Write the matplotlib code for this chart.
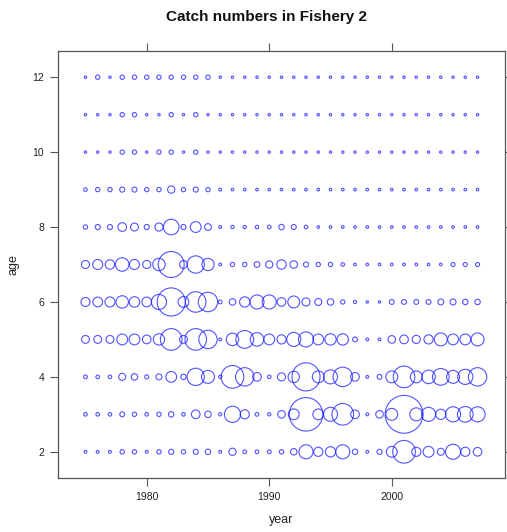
import numpy as np
import matplotlib
matplotlib.use("Agg")
import matplotlib.pyplot as plt

plt.rcParams['font.family'] = ['Liberation Sans', 'DejaVu Sans']

years = list(range(1975, 2008))
ages = [2, 3, 4, 5, 6, 7, 8, 9, 10, 11, 12]

# catch numbers (relative units) per age, years 1975-2007
age2 = [7, 7, 7, 16, 16, 7, 16, 22, 16, 22, 25, 7, 45, 12, 12, 12, 16, 36, 169, 72, 90, 169, 25, 7, 22, 100, 441, 72, 100, 42, 196, 72, 64]
age3 = [11, 11, 11, 20, 16, 11, 16, 25, 11, 64, 36, 9, 225, 72, 12, 9, 49, 100, 961, 100, 169, 400, 64, 7, 49, 121, 1225, 144, 169, 90, 196, 210, 196]
age4 = [12, 11, 11, 42, 36, 14, 30, 100, 25, 256, 144, 9, 441, 289, 64, 11, 56, 110, 676, 121, 169, 324, 64, 7, 20, 121, 400, 121, 156, 240, 144, 196, 289]
age5 = [53, 53, 53, 100, 100, 64, 110, 400, 53, 400, 289, 7, 132, 272, 156, 100, 72, 169, 196, 100, 110, 110, 20, 7, 7, 49, 64, 56, 72, 144, 100, 100, 144]
age6 = [69, 81, 86, 132, 94, 81, 196, 676, 100, 361, 324, 12, 36, 90, 169, 169, 64, 121, 56, 42, 36, 16, 9, 5, 5, 20, 20, 20, 20, 30, 30, 25, 25]
age7 = [56, 86, 76, 156, 86, 56, 132, 576, 53, 256, 128, 7, 16, 16, 28, 45, 76, 49, 22, 16, 16, 11, 6, 6, 6, 6, 6, 6, 6, 6, 14, 14, 14]
age8 = [16, 22, 22, 64, 53, 22, 56, 210, 22, 100, 40, 7, 9, 9, 10, 11, 25, 22, 11, 6, 6, 6, 6, 6, 6, 6, 6, 6, 6, 6, 6, 6, 6]
age9 = [11, 16, 16, 22, 22, 16, 16, 45, 16, 22, 16, 7, 6, 6, 6, 6, 6, 6, 6, 6, 6, 6, 6, 6, 6, 6, 6, 6, 6, 6, 6, 6, 6]
age10 = [5, 5, 5, 16, 16, 5, 16, 16, 5, 16, 5, 5, 5, 5, 5, 5, 5, 5, 5, 5, 5, 5, 5, 5, 5, 5, 5, 5, 5, 5, 5, 5, 5]
age11 = [5, 5, 5, 16, 16, 5, 5, 16, 5, 16, 5, 5, 5, 5, 5, 5, 5, 5, 5, 5, 5, 5, 5, 5, 5, 5, 5, 5, 5, 5, 5, 5, 5]
age12 = [5, 16, 5, 16, 16, 16, 16, 16, 16, 16, 16, 5, 5, 5, 5, 5, 5, 5, 5, 5, 5, 5, 5, 5, 5, 5, 5, 5, 5, 5, 5, 5, 5]

catch = [age2, age3, age4, age5, age6, age7, age8, age9, age10, age11, age12]

xticks = [1980, 1990, 2000]
yticks = [2, 4, 6, 8, 10, 12]

DPI = 100
fig = plt.figure(figsize=(5.07, 5.32), dpi=DPI)
ax = fig.add_axes([58 / 507, 1 - 478 / 532, 447 / 507, 427 / 532])

lw = 0.8
for a, vals in zip(ages, catch):
    v = np.array(vals, dtype=float)
    d_pt = np.sqrt(v) * 72 / DPI * 1.08      # bubble area proportional to catch
    ax.scatter(years, [a] * len(years), s=d_pt ** 2, facecolors='none',
               edgecolors=(0.1, 0.1, 1.0, 0.75), linewidths=lw, clip_on=False)

xr = max(years) - min(years)
yr = max(ages) - min(ages)
ax.set_xlim(min(years) - 0.07 * xr, max(years) + 0.07 * xr)
ax.set_ylim(min(ages) - 0.07 * yr, max(ages) + 0.07 * yr)

ax.set_xticks(xticks)
ax.set_yticks(yticks)
ax.tick_params(direction='out', length=6, width=0.8, color='#555555',
               labelsize=7.5, labelcolor='#222222', top=True, right=True,
               labeltop=False, labelright=False, pad=4)
for s in ax.spines.values():
    s.set_color('#555555')
    s.set_linewidth(0.9)

ax.set_xlabel('year', fontsize=9, color='#222222', labelpad=9)
ax.set_ylabel('age', fontsize=9, color='#222222', labelpad=9)
fig.text(267 / 507, 1 - 17 / 532, 'Catch numbers in Fishery 2', ha='center',
         va='center', fontsize=11, fontweight='bold', color='#111111')

fig.savefig('out.png', dpi=DPI)
